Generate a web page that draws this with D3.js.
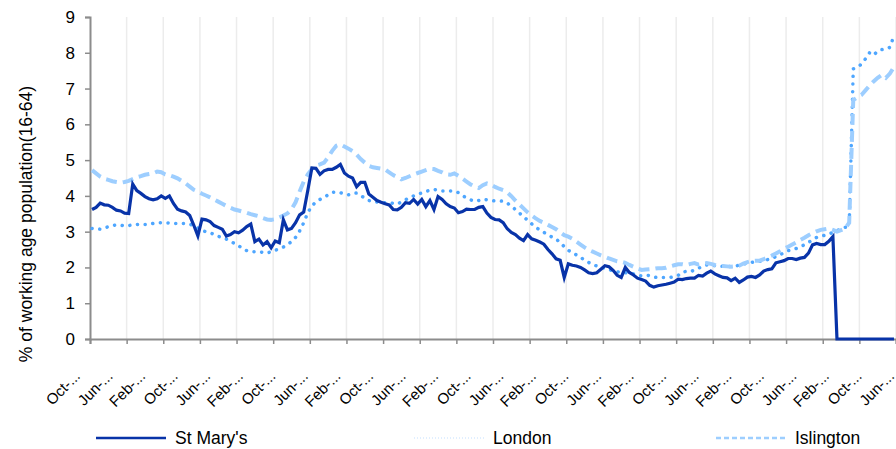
<!DOCTYPE html>
<html>
<head>
<meta charset="utf-8">
<script src="https://cdn.jsdelivr.net/npm/d3@7"></script>
<style>
  body { margin: 0; background: #fff; }
  #chart { width: 896px; height: 449px; }
  text { font-family: "Liberation Sans", Arial, sans-serif; fill: #000; }
</style>
</head>
<body>
<div id="chart"></div>
<script>
// monthly values, one per category (198 months visible)
const stMarys = [
  3.62, 3.68, 3.8, 3.75, 3.74, 3.68, 3.6, 3.58, 3.52, 3.51,
  4.33, 4.15, 4.07, 3.98, 3.92, 3.89, 3.92, 4.0, 3.93, 4.0,
  3.79, 3.63, 3.58, 3.55, 3.45, 3.18, 2.88, 3.35, 3.33, 3.28,
  3.17, 3.12, 3.07, 2.88, 2.92, 3.0, 2.97, 3.04, 3.14, 3.21,
  2.72, 2.79, 2.63, 2.72, 2.55, 2.74, 2.69, 3.33, 3.05, 3.09,
  3.25, 3.47, 3.55, 4.15, 4.78, 4.77, 4.6, 4.7, 4.74, 4.74,
  4.8, 4.88, 4.64, 4.55, 4.5, 4.26, 4.38, 4.38, 4.05, 3.96,
  3.87, 3.82, 3.78, 3.75, 3.62, 3.61, 3.68, 3.81, 3.79, 3.9,
  3.77, 3.9, 3.7, 3.87, 3.62, 3.98, 3.9, 3.78, 3.7, 3.66,
  3.53, 3.56, 3.63, 3.62, 3.62, 3.68, 3.7, 3.52, 3.4, 3.34,
  3.33, 3.25, 3.08, 2.98, 2.92, 2.82, 2.75, 2.92, 2.8, 2.76,
  2.71, 2.65, 2.5, 2.38, 2.24, 2.2, 1.72, 2.1, 2.06, 2.04,
  2.0, 1.93, 1.85, 1.83, 1.85, 1.95, 2.05, 2.02, 1.92, 1.78,
  1.72, 2.0, 1.86, 1.79, 1.7, 1.66, 1.62, 1.5, 1.45, 1.49,
  1.51, 1.53, 1.56, 1.59, 1.67, 1.66, 1.69, 1.7, 1.7, 1.78,
  1.76, 1.84, 1.9, 1.82, 1.77, 1.72, 1.71, 1.63, 1.7, 1.58,
  1.65, 1.73, 1.75, 1.72, 1.79, 1.9, 1.94, 1.96, 2.13, 2.16,
  2.19, 2.25, 2.25, 2.22, 2.26, 2.28, 2.4, 2.63, 2.67, 2.64,
  2.64, 2.73, 2.86, 0, 0, 0, 0, 0, 0, 0,
  0, 0, 0, 0, 0, 0, 0, 0,
];
const london = [
  3.09, 3.08, 3.07, 3.1, 3.14, 3.17, 3.19, 3.18, 3.16, 3.17,
  3.19, 3.2, 3.21, 3.2, 3.2, 3.23, 3.25, 3.25, 3.25, 3.24,
  3.23, 3.23, 3.23, 3.23, 3.21, 3.16, 3.1, 3.03, 3.0, 2.97,
  2.92, 2.87, 2.83, 2.79, 2.73, 2.67, 2.61, 2.52, 2.47, 2.44,
  2.44, 2.44, 2.42, 2.4, 2.44, 2.48, 2.52, 2.57, 2.64, 2.72,
  2.84, 3.02, 3.25, 3.53, 3.72, 3.83, 3.9, 3.96, 4.03, 4.1,
  4.11, 4.09, 4.05, 4.03, 4.07, 4.08, 4.01, 3.94, 3.87, 3.85,
  3.83, 3.82, 3.81, 3.81, 3.79, 3.77, 3.83, 3.89, 3.95, 4.0,
  4.05, 4.08, 4.12, 4.16, 4.18, 4.16, 4.14, 4.14, 4.14, 4.14,
  4.09, 4.01, 3.94, 3.89, 3.85, 3.87, 3.91, 3.89, 3.87, 3.86,
  3.86, 3.85, 3.8, 3.71, 3.62, 3.52, 3.42, 3.32, 3.22, 3.12,
  3.05, 2.98, 2.91, 2.85, 2.79, 2.7, 2.58, 2.48, 2.41, 2.35,
  2.29, 2.2, 2.14, 2.08, 2.04, 2.0, 1.97, 1.94, 1.9, 1.88,
  1.86, 1.85, 1.84, 1.82, 1.77, 1.77, 1.79, 1.77, 1.73, 1.72,
  1.72, 1.72, 1.72, 1.74, 1.78, 1.87, 1.89, 1.88, 1.93, 1.98,
  2.03, 2.07, 2.06, 2.05, 2.04, 2.03, 2.02, 2.03, 2.04, 2.06,
  2.09, 2.12, 2.14, 2.16, 2.17, 2.2, 2.22, 2.26, 2.3, 2.35,
  2.42, 2.47, 2.5, 2.53, 2.58, 2.63, 2.7, 2.77, 2.84, 2.87,
  2.9, 2.93, 2.98, 3.03, 3.07, 3.12, 3.15, 7.55, 7.6, 7.68,
  7.83, 8.0, 7.93, 8.05, 8.09, 8.1, 8.15, 8.48,
];
const islington = [
  4.72, 4.63, 4.54, 4.48, 4.45, 4.41, 4.39, 4.37, 4.39, 4.42,
  4.47, 4.52, 4.55, 4.59, 4.61, 4.63, 4.68, 4.66, 4.6, 4.58,
  4.54, 4.49, 4.42, 4.35, 4.26, 4.17, 4.12, 4.06, 4.01, 3.96,
  3.9, 3.84, 3.78, 3.72, 3.67, 3.62, 3.59, 3.56, 3.53, 3.49,
  3.46, 3.43, 3.38, 3.34, 3.33, 3.35, 3.4, 3.45, 3.51, 3.62,
  3.82, 4.12, 4.4, 4.6, 4.75, 4.85, 4.88, 4.93, 5.08, 5.26,
  5.4, 5.44, 5.38, 5.32, 5.25, 5.15, 5.03, 4.93, 4.84, 4.8,
  4.78, 4.76, 4.74, 4.66, 4.58, 4.52, 4.46, 4.5, 4.55, 4.6,
  4.64, 4.68, 4.72, 4.76, 4.75, 4.7, 4.66, 4.6, 4.59, 4.63,
  4.56, 4.48, 4.4, 4.32, 4.26, 4.22, 4.3, 4.35, 4.31, 4.25,
  4.2, 4.16, 4.1, 3.99, 3.87, 3.76, 3.65, 3.54, 3.45, 3.37,
  3.3, 3.25, 3.19, 3.13, 3.07, 2.98, 2.9, 2.86, 2.8, 2.72,
  2.64, 2.56, 2.49, 2.44, 2.39, 2.34, 2.3, 2.25, 2.21, 2.17,
  2.16, 2.13, 2.07, 2.02, 1.97, 1.93, 1.94, 1.95, 1.96, 1.98,
  1.98, 1.99, 2.03, 2.06, 2.09, 2.09, 2.07, 2.1, 2.12, 2.08,
  2.1, 2.12, 2.1, 2.07, 2.05, 2.04, 2.03, 2.02, 2.03, 2.05,
  2.11, 2.15, 2.18, 2.19, 2.19, 2.23, 2.28, 2.33, 2.39, 2.45,
  2.52, 2.58, 2.64, 2.7, 2.77, 2.83, 2.9, 2.96, 3.01, 3.05,
  3.07, 3.09, 3.05, 3.0, 3.04, 3.09, 3.25, 6.68, 6.75, 6.82,
  6.95, 7.08, 7.2, 7.3, 7.38, 7.3, 7.42, 7.6,
];
// a label every 8 months, a tick mark every 9 months
const tickLabels = [
  "Oct-...", "Jun-...", "Feb-...", "Oct-...", "Jun-...", "Feb-...",
  "Oct-...", "Jun-...", "Feb-...", "Oct-...", "Jun-...", "Feb-...",
  "Oct-...", "Jun-...", "Feb-...", "Oct-...", "Jun-...", "Feb-...",
  "Oct-...", "Jun-...", "Feb-...", "Oct-...", "Jun-...", "Feb-...",
  "Oct-...", "Jun-...",
];
const yTicks = [0, 1, 2, 3, 4, 5, 6, 7, 8, 9];

const theme = {
  stMarys: "#0833a8",
  london: "#4ea6ff",
  islington: "#9dceff",
  axis: "#8c8c8c",
  grid: "#ececec",
};

const width = 896;
const height = 449;
const margin = { left: 90, right: 0, top: 17, bottom: 110 };
const labelStep = 8;
const tickStep = 9;

const svg = d3
  .select("#chart")
  .append("svg")
  .attr("width", width)
  .attr("height", height);

// chart is cut at the right edge, so the category axis runs on past it
const xScale = d3
  .scaleLinear()
  .domain([0, stMarys.length])
  .range([margin.left, width - margin.right]);
const yScale = d3
  .scaleLinear()
  .domain([0, 9])
  .range([height - margin.bottom, margin.top]);

const tickIdx = d3.range(0, stMarys.length + 1, tickStep);

// vertical gridlines
svg
  .append("g")
  .selectAll("line")
  .data(tickIdx.slice(1))
  .join("line")
  .attr("x1", (d) => xScale(d))
  .attr("x2", (d) => xScale(d))
  .attr("y1", yScale(9))
  .attr("y2", yScale(0))
  .attr("stroke", theme.grid)
  .attr("stroke-width", 1.5);

// y axis
const yAxis = svg
  .append("g")
  .attr("transform", `translate(${margin.left}, 0)`)
  .call(d3.axisLeft(yScale).tickValues(yTicks).tickSize(5).tickPadding(10).tickFormat(d3.format("d")));
yAxis.select(".domain").attr("stroke", theme.axis).attr("stroke-width", 2);
yAxis.selectAll(".tick line").attr("stroke", theme.axis).attr("stroke-width", 1.5);
yAxis
  .selectAll(".tick text")
  .attr("font-size", 17)
  .attr("font-family", "Liberation Sans, Arial, sans-serif")
  .attr("fill", "#000");

// x axis
const xAxis = svg
  .append("g")
  .attr("transform", `translate(0, ${yScale(0)})`)
  .call(d3.axisBottom(xScale).tickValues(tickIdx).tickSize(5).tickFormat(""));
xAxis.select(".domain").attr("stroke", theme.axis).attr("stroke-width", 2);
xAxis.selectAll(".tick line").attr("stroke", theme.axis).attr("stroke-width", 1.5);

svg
  .append("g")
  .selectAll("text")
  .data(tickLabels)
  .join("text")
  .attr("transform", (d, i) => `translate(${xScale(i * labelStep + 0.5) - 11}, ${yScale(0) + 38}) rotate(-45)`)
  .attr("text-anchor", "end")
  .attr("font-size", 15)
  .text((d) => d);

// y title
svg
  .append("text")
  .attr("transform", `translate(32, 224) rotate(-90)`)
  .attr("text-anchor", "middle")
  .attr("font-size", 17.5)
  .text("% of working age population(16-64)");

const line = d3
  .line()
  .x((d, i) => xScale(i + 0.5))
  .y((d) => yScale(d));

svg
  .append("path")
  .attr("fill", "none")
  .attr("stroke", theme.london)
  .attr("stroke-width", 3.5)
  .attr("stroke-linecap", "round")
  .attr("stroke-dasharray", "0.1 7.6")
  .attr("d", line(london));

svg
  .append("path")
  .attr("fill", "none")
  .attr("stroke", theme.islington)
  .attr("stroke-width", 4)
  .attr("stroke-dasharray", "11 6")
  .attr("d", line(islington));

svg
  .append("path")
  .attr("fill", "none")
  .attr("stroke", theme.stMarys)
  .attr("stroke-width", 3.2)
  .attr("stroke-linejoin", "miter")
  .attr("d", line(stMarys));

// legend
const legend = [
  { name: "St Mary's", x: 96, color: theme.stMarys, w: 2.5, dash: null },
  { name: "London", x: 414, color: "#c4e0ff", w: 1.2, dash: "1 2" },
  { name: "Islington", x: 716, color: theme.islington, w: 2.5, dash: "5 3" },
];
const lg = svg
  .append("g")
  .selectAll("g")
  .data(legend)
  .join("g")
  .attr("transform", (d) => `translate(${d.x}, 438)`);
lg.append("line")
  .attr("x1", 0)
  .attr("x2", 70)
  .attr("stroke", (d) => d.color)
  .attr("stroke-width", (d) => d.w)
  .attr("stroke-dasharray", (d) => d.dash);
lg.append("text")
  .attr("x", 79)
  .attr("y", 6)
  .attr("font-size", 17.5)
  .text((d) => d.name);
</script>
</body>
</html>
